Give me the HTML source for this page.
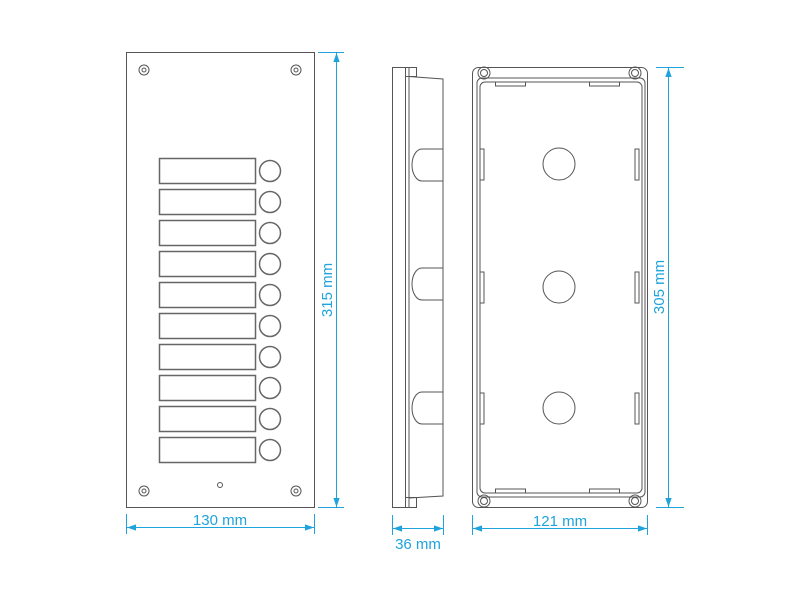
<!DOCTYPE html>
<html><head><style>body{margin:0;background:#fff}svg{display:block}</style></head><body>
<svg width="800" height="600" viewBox="0 0 800 600" xmlns="http://www.w3.org/2000/svg">
<defs>
<marker id="a" viewBox="0 0 10 10" refX="10" refY="5" markerWidth="9" markerHeight="9" orient="auto-start-reverse" markerUnits="userSpaceOnUse"><path d="M0,1.5L10,5L0,8.5z" fill="#1fa3dc"/></marker>
</defs>
<g fill="none" stroke="#555" stroke-width="1">
<rect x="126.5" y="52.5" width="188" height="455"/>
<circle cx="144" cy="70" r="5"/><circle cx="144" cy="70" r="2"/>
<circle cx="296" cy="70" r="5"/><circle cx="296" cy="70" r="2"/>
<circle cx="144" cy="491" r="5"/><circle cx="144" cy="491" r="2"/>
<circle cx="296" cy="491" r="5"/><circle cx="296" cy="491" r="2"/>
<circle cx="220" cy="485" r="2.5"/>
<g stroke-width="1.5" stroke="#666">
<rect x="159.5" y="158.5" width="96" height="25"/><circle cx="270" cy="171" r="10.5"/>
<rect x="159.5" y="189.5" width="96" height="25"/><circle cx="270" cy="202" r="10.5"/>
<rect x="159.5" y="220.5" width="96" height="25"/><circle cx="270" cy="233" r="10.5"/>
<rect x="159.5" y="251.5" width="96" height="25"/><circle cx="270" cy="264" r="10.5"/>
<rect x="159.5" y="282.5" width="96" height="25"/><circle cx="270" cy="295" r="10.5"/>
<rect x="159.5" y="313.5" width="96" height="25"/><circle cx="270" cy="326" r="10.5"/>
<rect x="159.5" y="344.5" width="96" height="25"/><circle cx="270" cy="357" r="10.5"/>
<rect x="159.5" y="375.5" width="96" height="25"/><circle cx="270" cy="388" r="10.5"/>
<rect x="159.5" y="406.5" width="96" height="25"/><circle cx="270" cy="419" r="10.5"/>
<rect x="159.5" y="437.5" width="96" height="25"/><circle cx="270" cy="450" r="10.5"/>
</g>
<rect x="392.5" y="67.5" width="13" height="440"/>
<line x1="409" y1="67" x2="409" y2="507"/>
<rect x="405.5" y="67.5" width="11" height="9"/>
<rect x="405.5" y="497.5" width="11" height="10"/>
<path d="M409 76.5L443 79V496L409 498"/>
<path d="M443 149H422A10 16 0 0 0 422 181H443"/>
<path d="M443 268H422A10 16 0 0 0 422 300H443"/>
<path d="M443 392H422A10 16 0 0 0 422 424H443"/>
<rect x="472.5" y="67.5" width="175" height="440" rx="6"/>
<rect x="477" y="78" width="168" height="419" rx="5"/>
<rect x="480" y="82" width="162" height="411" rx="5"/>
<circle cx="484" cy="73" r="6"/><circle cx="484" cy="73" r="3.5"/>
<circle cx="635" cy="73" r="6"/><circle cx="635" cy="73" r="3.5"/>
<circle cx="484" cy="501" r="6"/><circle cx="484" cy="501" r="3.5"/>
<circle cx="635" cy="501" r="6"/><circle cx="635" cy="501" r="3.5"/>
<rect x="495.5" y="82" width="30" height="4"/><rect x="589.5" y="82" width="30" height="4"/>
<rect x="495.5" y="489" width="30" height="4"/><rect x="589.5" y="489" width="30" height="4"/>
<rect x="480" y="149" width="4" height="31"/><rect x="635" y="149" width="4" height="31"/>
<rect x="480" y="272" width="4" height="31"/><rect x="635" y="272" width="4" height="31"/>
<rect x="480" y="393" width="4" height="31"/><rect x="635" y="393" width="4" height="31"/>
<circle cx="559" cy="164" r="16"/><circle cx="559" cy="287" r="16"/><circle cx="559" cy="408" r="16"/>
</g>
<g stroke="#1fa3dc" stroke-width="1" fill="none">
<line x1="318" y1="52.5" x2="344" y2="52.5"/><line x1="318" y1="507.5" x2="344" y2="507.5"/>
<line x1="336.5" y1="53" x2="336.5" y2="507" marker-start="url(#a)" marker-end="url(#a)"/>
<line x1="126.5" y1="514" x2="126.5" y2="534"/><line x1="314.5" y1="514" x2="314.5" y2="534"/>
<line x1="127" y1="527.5" x2="314" y2="527.5" marker-start="url(#a)" marker-end="url(#a)"/>
<line x1="392.5" y1="515" x2="392.5" y2="535"/><line x1="443.5" y1="515" x2="443.5" y2="535"/>
<line x1="393" y1="528.5" x2="443" y2="528.5" marker-start="url(#a)" marker-end="url(#a)"/>
<line x1="472.5" y1="515" x2="472.5" y2="535"/><line x1="647.5" y1="515" x2="647.5" y2="535"/>
<line x1="473" y1="528.5" x2="647" y2="528.5" marker-start="url(#a)" marker-end="url(#a)"/>
<line x1="656" y1="67.5" x2="684" y2="67.5"/><line x1="656" y1="507.5" x2="684" y2="507.5"/>
<line x1="668.5" y1="68" x2="668.5" y2="507" marker-start="url(#a)" marker-end="url(#a)"/>
</g>
<g fill="#1fa3dc" font-family="Liberation Sans, sans-serif" font-size="15" text-anchor="middle">
<text x="220" y="525">130 mm</text>
<text x="418" y="549">36 mm</text>
<text x="560" y="526">121 mm</text>
<text transform="translate(332,290) rotate(-90)">315 mm</text>
<text transform="translate(664,287) rotate(-90)">305 mm</text>
</g>
</svg>
</body></html>
